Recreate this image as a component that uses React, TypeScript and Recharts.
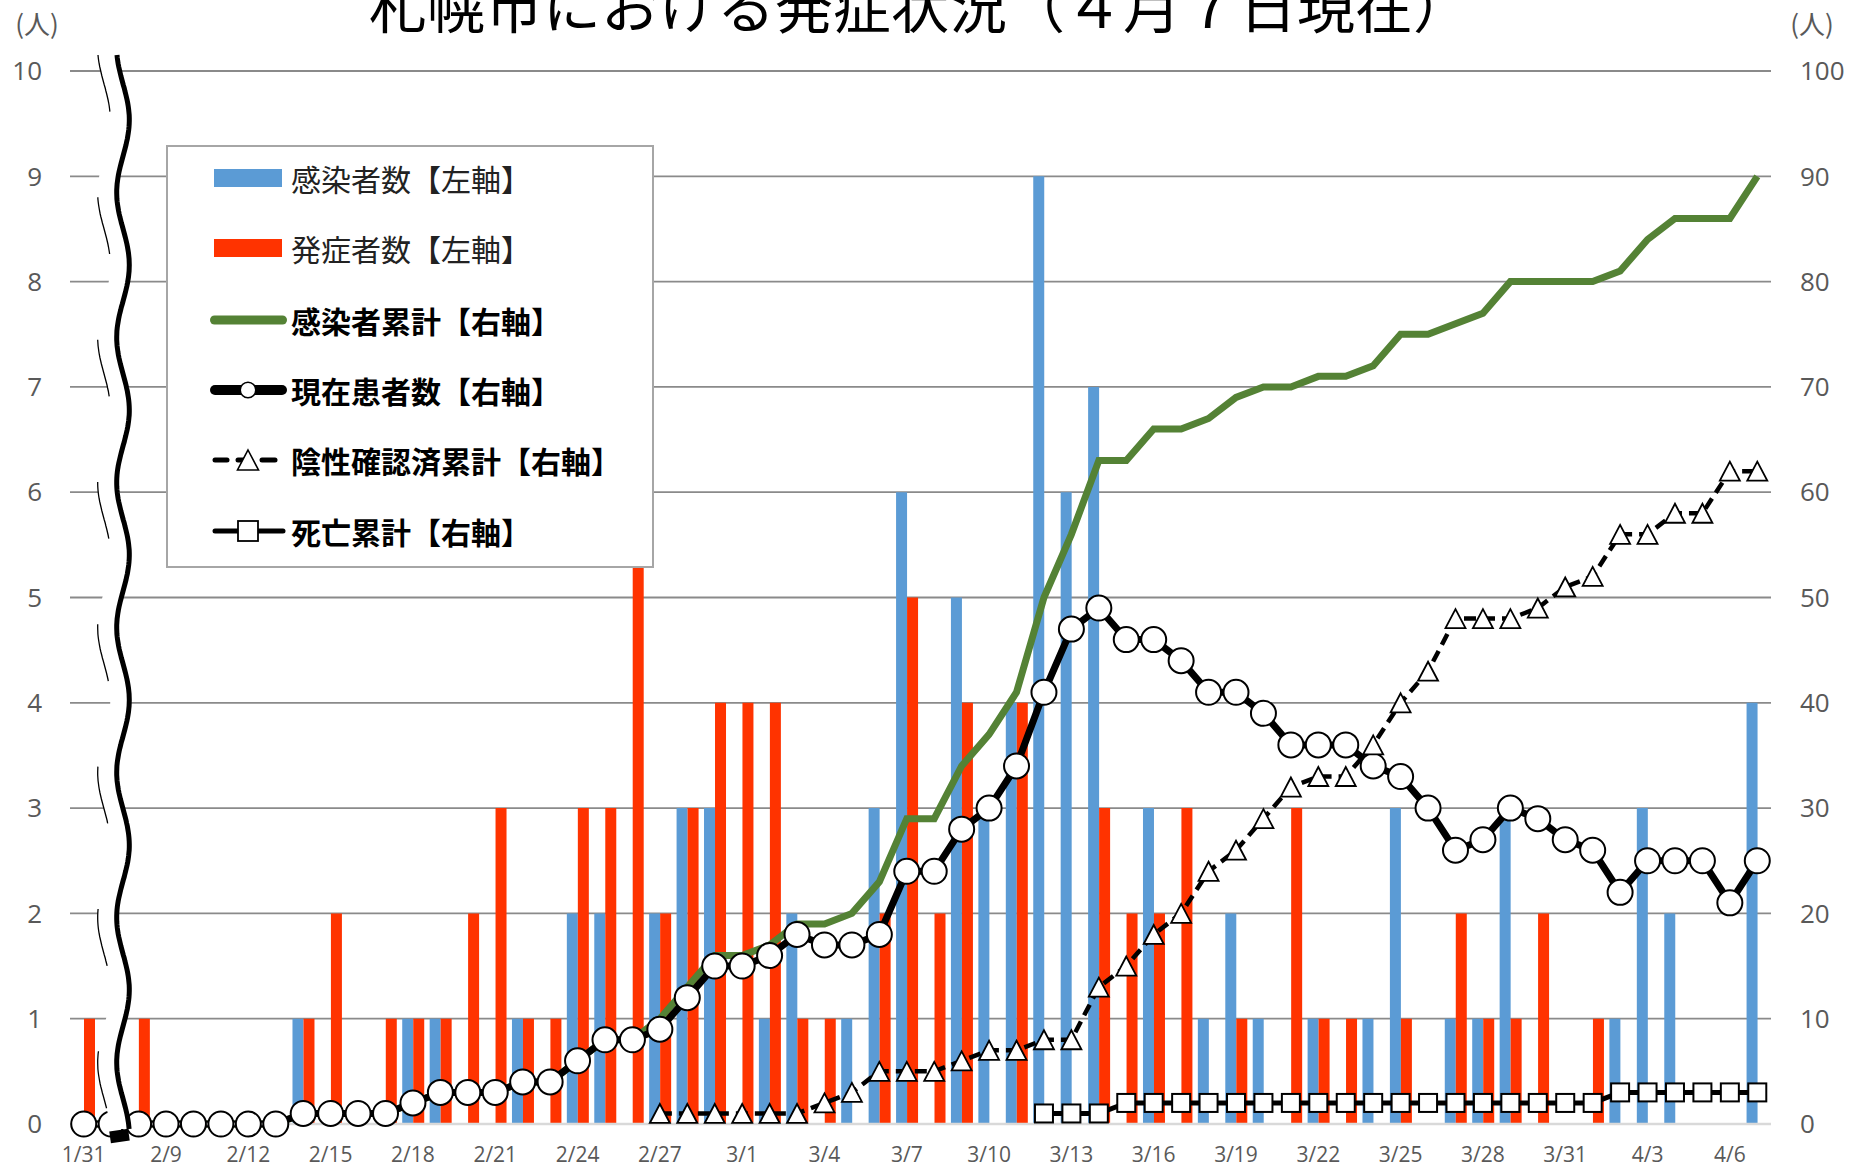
import React from 'react';
import { ComposedChart, Bar, Line, XAxis, YAxis, CartesianGrid, Legend } from 'recharts';

document.body.style.margin = '0';

// 日付（1/31 の後は波線で省略）
const dates = [
  '1/31', '2/7', '2/8', '2/9', '2/10', '2/11', '2/12', '2/13', '2/14', '2/15',
  '2/16', '2/17', '2/18', '2/19', '2/20', '2/21', '2/22', '2/23', '2/24', '2/25',
  '2/26', '2/27', '2/28', '2/29', '3/1', '3/2', '3/3', '3/4', '3/5', '3/6',
  '3/7', '3/8', '3/9', '3/10', '3/11', '3/12', '3/13', '3/14', '3/15', '3/16',
  '3/17', '3/18', '3/19', '3/20', '3/21', '3/22', '3/23', '3/24', '3/25', '3/26',
  '3/27', '3/28', '3/29', '3/30', '3/31', '4/1', '4/2', '4/3', '4/4', '4/5',
  '4/6', '4/7',
];

// 感染者数【左軸】
const infected = [
  0, 0, 0, 0, 0, 0, 0, 0, 1, 0,
  0, 0, 1, 1, 0, 0, 1, 0, 2, 2,
  0, 2, 3, 3, 0, 1, 2, 0, 1, 3,
  6, 0, 5, 3, 4, 9, 6, 7, 0, 3,
  0, 1, 2, 1, 0, 1, 0, 1, 3, 0,
  1, 1, 3, 0, 0, 0, 1, 3, 2, 0,
  0, 4,
];

// 発症者数【左軸】
const onset = [
  1, 0, 1, 0, 0, 0, 0, 0, 1, 2,
  0, 1, 1, 1, 2, 3, 1, 1, 3, 3,
  6, 2, 3, 4, 4, 4, 1, 1, 0, 2,
  5, 2, 4, 0, 4, 0, 0, 3, 2, 2,
  3, 0, 1, 0, 3, 1, 1, 0, 1, 0,
  2, 1, 1, 2, 0, 1, 0, 0, 0, 0,
  0, 0,
];

// 感染者累計【右軸】
const cumulative = [
  0, 0, 0, 0, 0, 0, 0, 0, 1, 1,
  1, 1, 2, 3, 3, 3, 4, 4, 6, 8,
  8, 10, 13, 16, 16, 17, 19, 19, 20, 23,
  29, 29, 34, 37, 41, 50, 56, 63, 63, 66,
  66, 67, 69, 70, 70, 71, 71, 72, 75, 75,
  76, 77, 80, 80, 80, 80, 81, 84, 86, 86,
  86, 90,
];

// 現在患者数【右軸】
const current = [
  0, 0, 0, 0, 0, 0, 0, 0, 1, 1,
  1, 1, 2, 3, 3, 3, 4, 4, 6, 8,
  8, 9, 12, 15, 15, 16, 18, 17, 17, 18,
  24, 24, 28, 30, 34, 41, 47, 49, 46, 46,
  44, 41, 41, 39, 36, 36, 36, 34, 33, 30,
  26, 27, 30, 29, 27, 26, 22, 25, 25, 25,
  21, 25,
];

// 陰性確認済累計【右軸】
const negative = [
  null, null, null, null, null, null, null, null, null, null,
  null, null, null, null, null, null, null, null, null, null,
  null, 1, 1, 1, 1, 1, 1, 2, 3, 5,
  5, 5, 6, 7, 7, 8, 8, 13, 15, 18,
  20, 24, 26, 29, 32, 33, 33, 36, 40, 43,
  48, 48, 48, 49, 51, 52, 56, 56, 58, 58,
  62, 62,
];

// 死亡累計【右軸】
const deaths = [
  null, null, null, null, null, null, null, null, null, null,
  null, null, null, null, null, null, null, null, null, null,
  null, null, null, null, null, null, null, null, null, null,
  null, null, null, null, null, 1, 1, 1, 2, 2,
  2, 2, 2, 2, 2, 2, 2, 2, 2, 2,
  2, 2, 2, 2, 2, 2, 3, 3, 3, 3,
  3, 3,
];

const leftTicks = [0, 1, 2, 3, 4, 5, 6, 7, 8, 9, 10];
const rightTicks = [0, 10, 20, 30, 40, 50, 60, 70, 80, 90, 100];
const gridValues = [1, 2, 3, 4, 5, 6, 7, 8, 9, 10];

const data = dates.map((date, i) => ({
  date,
  infected: infected[i],
  onset: onset[i],
  cumulative: cumulative[i],
  current: current[i],
  negative: negative[i],
  deaths: deaths[i],
}));

const BLUE = '#5B9BD5';
const RED = '#FF3300';
const GREEN = '#548235';
const AXIS_TEXT = '#595959';
const NUM_FONT = '"Open Sans", "Noto Sans", sans-serif';
const JP_FONT = '"Noto Sans CJK JP", "Noto Sans", sans-serif';

const CircleDot = (props: any) => {
  const { cx, cy, index, value } = props;
  if (value == null || cy == null) return <g key={`c${index}`} />;
  return <circle key={`c${index}`} cx={cx} cy={cy} r={12.5} fill="#fff" stroke="#000" strokeWidth={2} />;
};

const TriangleDot = (props: any) => {
  const { cx, cy, index, value } = props;
  if (value == null || cy == null) return <g key={`t${index}`} />;
  return (
    <path
      key={`t${index}`}
      d={`M${cx},${cy - 9.5} L${cx + 10},${cy + 9.5} L${cx - 10},${cy + 9.5} Z`}
      fill="#fff"
      stroke="#000"
      strokeWidth={1.8}
      strokeLinejoin="miter"
    />
  );
};

const SquareDot = (props: any) => {
  const { cx, cy, index, value } = props;
  if (value == null || cy == null) return <g key={`s${index}`} />;
  return <rect key={`s${index}`} x={cx - 9} y={cy - 9} width={18} height={18} fill="#fff" stroke="#000" strokeWidth={2} />;
};

const renderLegend = () => (
  <svg width={488} height={423} style={{ display: 'block', background: '#fff' }}>
    <rect x={1} y={1} width={486} height={421} fill="#fff" stroke="#a6a6a6" strokeWidth={2} />
    {/* 感染者数 */}
    <rect x={48} y={24} width={68} height={18} fill={BLUE} />
    <text x={125} y={33} dominantBaseline="central" fontSize={30} fontFamily={JP_FONT} fill="#222">感染者数【左軸】</text>
    {/* 発症者数 */}
    <rect x={48} y={94} width={68} height={18} fill={RED} />
    <text x={125} y={103} dominantBaseline="central" fontSize={30} fontFamily={JP_FONT} fill="#222">発症者数【左軸】</text>
    {/* 感染者累計 */}
    <line x1={48.5} y1={175} x2={116.5} y2={175} stroke={GREEN} strokeWidth={9} strokeLinecap="round" />
    <text x={125} y={175} dominantBaseline="central" fontSize={30} fontWeight={700} fontFamily={JP_FONT} fill="#000">感染者累計【右軸】</text>
    {/* 現在患者数 */}
    <line x1={49} y1={245} x2={116} y2={245} stroke="#000" strokeWidth={10} strokeLinecap="round" />
    <circle cx={82} cy={245} r={7.8} fill="#fff" stroke="#000" strokeWidth={1.6} />
    <text x={125} y={245} dominantBaseline="central" fontSize={30} fontWeight={700} fontFamily={JP_FONT} fill="#000">現在患者数【右軸】</text>
    {/* 陰性確認済累計 */}
    <line x1={49} y1={315} x2={61} y2={315} stroke="#000" strokeWidth={5} strokeLinecap="round" />
    <line x1={72} y1={315} x2={78} y2={315} stroke="#000" strokeWidth={5} strokeLinecap="round" />
    <line x1={96} y1={315} x2={109} y2={315} stroke="#000" strokeWidth={5} strokeLinecap="round" />
    <path d="M82,305 L92.5,325 L71.5,325 Z" fill="#fff" stroke="#000" strokeWidth={1.6} />
    <text x={125} y={315} dominantBaseline="central" fontSize={30} fontWeight={700} fontFamily={JP_FONT} fill="#000">陰性確認済累計【右軸】</text>
    {/* 死亡累計 */}
    <line x1={49} y1={386} x2={117} y2={386} stroke="#000" strokeWidth={5} strokeLinecap="round" />
    <rect x={72} y={376} width={20} height={20} fill="#fff" stroke="#000" strokeWidth={1.8} />
    <text x={125} y={386} dominantBaseline="central" fontSize={30} fontWeight={700} fontFamily={JP_FONT} fill="#000">死亡累計【右軸】</text>
  </svg>
);

// 軸の省略を示す波線（装飾）
const waveX = (y: number) => 123 + 6.3 * Math.cos((2 * Math.PI * (y - 120)) / 145);

function AxisBreak() {
  const ys: number[] = [];
  for (let y = 55; y <= 1131; y += 3) ys.push(y);
  const thick = ys.map((y, i) => `${i === 0 ? 'M' : 'L'}${waveX(y).toFixed(1)},${y}`).join(' ');
  const thin = ys.map((y, i) => `${i === 0 ? 'M' : 'L'}${(waveX(y) - 19).toFixed(1)},${y}`).join(' ');
  const band =
    ys.map((y, i) => `${i === 0 ? 'M' : 'L'}${(waveX(y) - 19).toFixed(1)},${y}`).join(' ') +
    ' ' +
    ys
      .slice()
      .reverse()
      .map((y) => `L${waveX(y).toFixed(1)},${y}`)
      .join(' ') +
    ' Z';
  return (
    <g>
      <path d={band} fill="#fff" stroke="none" />
      <path d={thin} fill="none" stroke="#000" strokeWidth={1.3} strokeDasharray="58 87" />
      <path d={thick} fill="none" stroke="#000" strokeWidth={5} />
      <rect x={110} y={1130} width={19} height={12} fill="#000" transform="rotate(-8 119.5 1136)" />
    </g>
  );
}

export default function App() {
  return (
    <div style={{ position: 'relative', width: 1851, height: 1167, background: '#fff', overflow: 'hidden' }}>
      <ComposedChart
        width={1851}
        height={1167}
        data={data}
        margin={{ top: 71, right: 40, bottom: 13, left: 30 }}
        barGap={0}
      >
        <CartesianGrid
          yAxisId="left"
          vertical={false}
          horizontalValues={gridValues}
          stroke="#8a8a8a"
          strokeWidth={1.8}
        />
        <XAxis
          dataKey="date"
          interval={2}
          tickLine={false}
          tickSize={0}
          tickMargin={23}
          axisLine={{ stroke: '#d9d9d9', strokeWidth: 2.5 }}
          tick={{ fill: AXIS_TEXT, fontSize: 21, fontFamily: NUM_FONT }}
          height={30}
        />
        <YAxis
          yAxisId="left"
          domain={[0, 10]}
          ticks={leftTicks}
          width={40}
          axisLine={false}
          tickLine={false}
          tickSize={0}
          tickMargin={28}
          tick={{ fill: AXIS_TEXT, fontSize: 26, fontFamily: NUM_FONT }}
        />
        <YAxis
          yAxisId="right"
          orientation="right"
          domain={[0, 100]}
          ticks={rightTicks}
          width={40}
          axisLine={false}
          tickLine={false}
          tickSize={0}
          tickMargin={29}
          tick={{ fill: AXIS_TEXT, fontSize: 26, fontFamily: NUM_FONT, textAnchor: 'start' }}
        />
        <Bar yAxisId="left" dataKey="infected" name="感染者数【左軸】" fill={BLUE} barSize={11} isAnimationActive={false} />
        <Bar yAxisId="left" dataKey="onset" name="発症者数【左軸】" fill={RED} barSize={11} isAnimationActive={false} />
        <Line
          yAxisId="right"
          type="linear"
          dataKey="cumulative"
          name="感染者累計【右軸】"
          stroke={GREEN}
          strokeWidth={7}
          dot={false}
          activeDot={false}
          isAnimationActive={false}
        />
        <Line
          yAxisId="right"
          type="linear"
          dataKey="current"
          name="現在患者数【右軸】"
          stroke="#000"
          strokeWidth={7}
          dot={CircleDot}
          activeDot={false}
          isAnimationActive={false}
        />
        <Line
          yAxisId="right"
          type="linear"
          dataKey="negative"
          name="陰性確認済累計【右軸】"
          stroke="#000"
          strokeWidth={4.5}
          strokeDasharray="12 7"
          dot={TriangleDot}
          activeDot={false}
          isAnimationActive={false}
        />
        <Line
          yAxisId="right"
          type="linear"
          dataKey="deaths"
          name="死亡累計【右軸】"
          stroke="#000"
          strokeWidth={5}
          dot={SquareDot}
          activeDot={false}
          isAnimationActive={false}
        />
        <Legend
          layout="horizontal"
          verticalAlign="middle"
          align="center"
          content={renderLegend}
          wrapperStyle={{ position: 'absolute', left: 166, top: 145, width: 488, height: 423 }}
        />
      </ComposedChart>
      <svg
        width={1851}
        height={1167}
        style={{ position: 'absolute', left: 0, top: 0, pointerEvents: 'none', overflow: 'visible' }}
      >
        <text x={920} y={28} textAnchor="middle" fontSize={58} fontFamily={JP_FONT} fill="#000">
          札幌市における発症状況（４月７日現在）
        </text>
        <text x={37} y={34} textAnchor="middle" fontSize={26} fontFamily={JP_FONT} fill={AXIS_TEXT}>(人)</text>
        <text x={1812} y={34} textAnchor="middle" fontSize={26} fontFamily={JP_FONT} fill={AXIS_TEXT}>(人)</text>
        <AxisBreak />
      </svg>
    </div>
  );
}
